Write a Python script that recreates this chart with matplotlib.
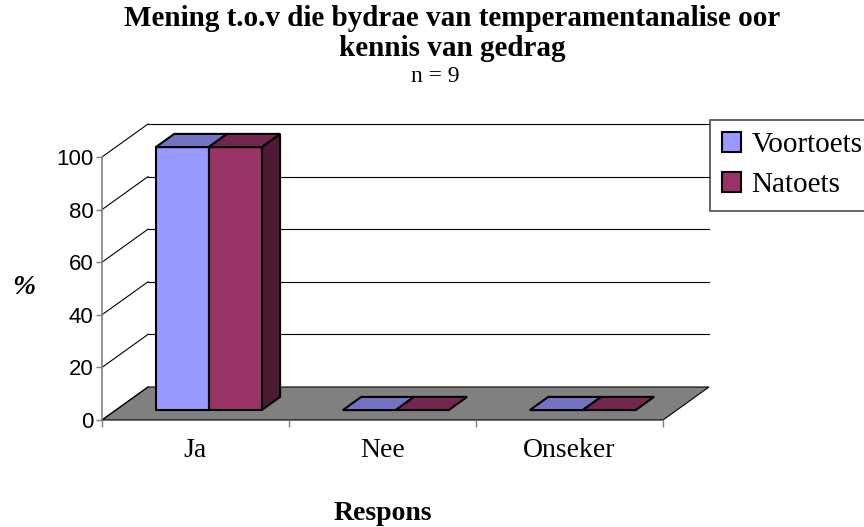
import matplotlib.pyplot as plt
from matplotlib.patches import Polygon, Patch

# chart data
categories = ['Ja', 'Nee', 'Onseker']
voortoets = [100, 0, 0]
natoets = [100, 0, 0]
series_names = ['Voortoets', 'Natoets']
y_ticks = [0, 20, 40, 60, 80, 100]
title_lines = ['Mening t.o.v die bydrae van temperamentanalise oor', 'kennis van gedrag']
subtitle_text = 'n = 9'
x_title = 'Respons'
y_title = '%'

# colours (front, top, side)
front_cols = ['#9999FF', '#993366']
top_cols = ['#7272C0', '#732650']
side_cols = ['#4C4C80', '#4D1A33']

W, H = 864, 527
fig = plt.figure(figsize=(W / 100, H / 100), dpi=100)

# front plane of the 3d box in pixels
left_px, right_px, base_px, top_px = 102, 663, 420, 157
ax = fig.add_axes([left_px / W, (H - base_px) / H,
                   (right_px - left_px) / W, (base_px - top_px) / H])
ax.set_xlim(0, len(categories))
ax.set_ylim(0, 100)

# depth of the box in data units
DX = 46 / ((right_px - left_px) / len(categories))
DY = 33 / ((base_px - top_px) / 100)


def proj(x, v, d):
    return (x + d * DX, v + d * DY)


def face(pts, fc, lw=1.5, ec='black', z=2):
    ax.add_patch(Polygon([proj(*p) for p in pts], closed=True, facecolor=fc,
                         edgecolor=ec, linewidth=lw, joinstyle='miter',
                         clip_on=False, zorder=z))


n = len(categories)
# floor
face([(0, 0, 0), (n, 0, 0), (n, 0, 1), (0, 0, 1)], '#808080', lw=0.8, z=1)

# back wall gridlines and left wall lines
for v in y_ticks:
    if v > 0:
        xs, ys = zip(proj(0, v, 1), proj(n, v, 1))
        ax.plot(xs, ys, color='black', lw=0.8, clip_on=False, zorder=1)
    xs, ys = zip(proj(0, v, 0), proj(0, v, 1))
    ax.plot(xs, ys, color='black', lw=0.8, clip_on=False, zorder=1)

# bars
bw = 0.283
gap = 0.214
d0, d1 = 0.3, 0.7
for i in range(n):
    for j, vals in enumerate([voortoets, natoets]):
        h = vals[i]
        x0 = i + gap + j * bw
        x1 = x0 + bw
        if h > 0:
            face([(x1, 0, d0), (x1, 0, d1), (x1, h, d1), (x1, h, d0)], side_cols[j], z=3)
            face([(x0, 0, d0), (x1, 0, d0), (x1, h, d0), (x0, h, d0)], front_cols[j], z=3)
        face([(x0, h, d0), (x1, h, d0), (x1, h, d1), (x0, h, d1)], top_cols[j], z=3)

# axes styling
for s in ['top', 'right', 'bottom']:
    ax.spines[s].set_visible(False)
ax.spines['left'].set_color('#808080')
ax.spines['left'].set_linewidth(1.2)
ax.set_yticks(y_ticks)
ax.set_yticklabels([str(t) for t in y_ticks], fontsize=16, family='Liberation Sans')
ax.set_xticks(range(n + 1))
ax.set_xticklabels([''] * (n + 1))
ax.set_xticks([i + 0.5 for i in range(n)], minor=True)
ax.set_xticklabels(categories, minor=True, fontsize=20, family='Liberation Serif')
ax.tick_params(axis='y', direction='out', length=4, width=1, color='#808080', pad=2)
ax.tick_params(axis='x', which='major', direction='out', length=5, width=1, color='#808080')
ax.tick_params(axis='x', which='minor', length=0, pad=13)
ax.set_facecolor('none')

# titles
fig.text(452 / W, 1 - 19 / H, title_lines[0], ha='center', va='center', fontsize=21,
         fontweight='bold', family='Liberation Serif')
fig.text(452 / W, 1 - 49 / H, title_lines[1], ha='center', va='center', fontsize=21,
         fontweight='bold', family='Liberation Serif')
fig.text(435 / W, 1 - 77 / H, subtitle_text, ha='center', va='center', fontsize=17,
         family='Liberation Serif')
fig.text(383 / W, 1 - 513 / H, x_title, ha='center', va='center', fontsize=20,
         fontweight='bold', family='Liberation Serif')
fig.text(24 / W, 1 - 288 / H, y_title, ha='center', va='center', fontsize=20,
         fontweight='bold', fontstyle='italic', family='Liberation Serif')

# legend
handles = [Patch(facecolor=front_cols[k], edgecolor='black', linewidth=1.5)
           for k in range(2)]
leg = fig.legend(handles, series_names, loc='upper left',
                 bbox_to_anchor=(710 / W, 1 - 120 / H), frameon=True, fancybox=False,
                 prop={'family': 'Liberation Serif', 'size': 21},
                 handlelength=0.65, handleheight=0.65, handletextpad=0.35,
                 labelspacing=0.48, borderpad=0.42, borderaxespad=0)
leg.get_frame().set_edgecolor('#202020')
leg.get_frame().set_linewidth(1.2)

fig.savefig('out.png', dpi=100)
